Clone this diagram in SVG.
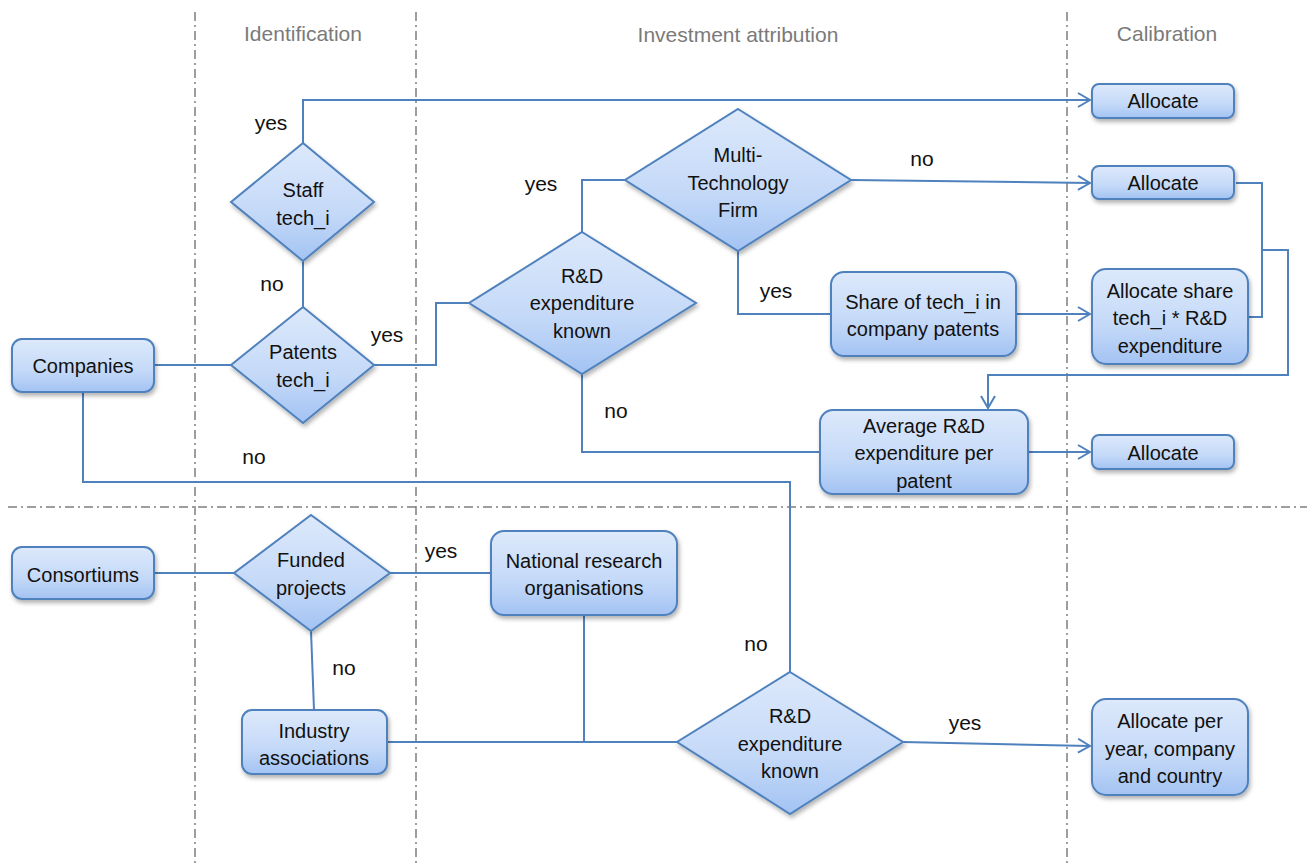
<svg xmlns="http://www.w3.org/2000/svg" width="1307" height="866" viewBox="0 0 1307 866">
<style>
.sep{stroke:#7f7f7f;stroke-width:1.5;stroke-dasharray:9 4 2 4;fill:none}
.hdr{font-family:"Liberation Sans",Arial,sans-serif;font-size:21px;fill:#7a7a7a;text-anchor:middle}
.box{fill:url(#g);stroke:#4f81bd;stroke-width:2;filter:url(#sh)}
.t{font-family:"Liberation Sans",Arial,sans-serif;font-size:20px;fill:#111;text-anchor:middle}
.lbl{font-family:"Liberation Sans",Arial,sans-serif;font-size:21px;fill:#111;text-anchor:middle}
.c{fill:none;stroke:#4f81bd;stroke-width:2}
.a{marker-end:url(#arr)}
</style>
<defs>
<linearGradient id="g" x1="0" y1="0" x2="0" y2="1">
<stop offset="0" stop-color="#dde9fb"/>
<stop offset="0.6" stop-color="#c4d9f8"/>
<stop offset="1" stop-color="#a3c3f3"/>
</linearGradient>
<filter id="sh" x="-20%" y="-20%" width="140%" height="150%">
<feDropShadow dx="1.5" dy="3" stdDeviation="2" flood-color="#000" flood-opacity="0.3"/>
</filter>
<marker id="arr" viewBox="0 0 14 16" refX="13" refY="8" markerWidth="14" markerHeight="16" markerUnits="userSpaceOnUse" orient="auto">
<path d="M1,1 L13,8 L1,15" fill="none" stroke="#4f81bd" stroke-width="2"/>
</marker>
</defs>

<g id="separators">
<line class="sep" x1="195" y1="12" x2="195" y2="866"/>
<line class="sep" x1="416" y1="12" x2="416" y2="866"/>
<line class="sep" x1="1067" y1="12" x2="1067" y2="866"/>
<line class="sep" x1="8" y1="507" x2="1307" y2="507"/>
</g>
<g id="headers">
<text class="hdr" x="303" y="41">Identification</text>
<text class="hdr" x="738" y="42">Investment attribution</text>
<text class="hdr" x="1167" y="41">Calibration</text>
</g>

<g id="connectors">
<polyline class="c a" points="303,143 303,100 1090,100"/>
<line class="c" x1="303" y1="261" x2="303" y2="307"/>
<line class="c" x1="154" y1="365" x2="231" y2="365"/>
<polyline class="c" points="374,365 436,365 436,303 469,303"/>
<polyline class="c" points="582,232 582,180 625,180"/>
<line class="c a" x1="851" y1="180" x2="1090" y2="183"/>
<polyline class="c" points="738,251 738,314 831,314"/>
<line class="c a" x1="1016" y1="314" x2="1090" y2="314"/>
<polyline class="c" points="1236,183 1262,183 1262,317 1248,317"/>
<polyline class="c a" points="1262,250 1288,250 1288,375 988,375 988,408"/>
<polyline class="c" points="582,374 582,452 820,452"/>
<line class="c a" x1="1028" y1="452" x2="1090" y2="452"/>
<polyline class="c" points="83,392 83,482 790,482 790,672"/>
<line class="c" x1="154" y1="573" x2="234" y2="573"/>
<line class="c" x1="390" y1="573" x2="491" y2="573"/>
<line class="c" x1="311" y1="631" x2="314" y2="710"/>
<line class="c" x1="387" y1="742" x2="677" y2="742"/>
<line class="c" x1="584" y1="615" x2="584" y2="742"/>
<line class="c a" x1="903" y1="742" x2="1090" y2="746"/>
</g>

<g id="labels">
<text class="lbl" x="271" y="130">yes</text>
<text class="lbl" x="272" y="291">no</text>
<text class="lbl" x="387" y="342">yes</text>
<text class="lbl" x="541" y="191">yes</text>
<text class="lbl" x="922" y="166">no</text>
<text class="lbl" x="776" y="298">yes</text>
<text class="lbl" x="616" y="418">no</text>
<text class="lbl" x="254" y="464">no</text>
<text class="lbl" x="441" y="558">yes</text>
<text class="lbl" x="344" y="675">no</text>
<text class="lbl" x="756" y="651">no</text>
<text class="lbl" x="965" y="730">yes</text>
</g>

<g id="companies">
<rect class="box" x="12" y="339" width="142" height="53" rx="10"/>
<text class="t" x="83" y="373">Companies</text>
</g>
<g id="staff">
<polygon class="box" points="303,143 374,202 303,261 231,202"/>
<text class="t" x="303" y="197">Staff</text>
<text class="t" x="303" y="225">tech_i</text>
</g>
<g id="patents">
<polygon class="box" points="303,307 374,365 303,423 231,365"/>
<text class="t" x="303" y="359">Patents</text>
<text class="t" x="303" y="387">tech_i</text>
</g>
<g id="rd-upper">
<polygon class="box" points="582,232 696,303 582,374 469,303"/>
<text class="t" x="582" y="283">R&amp;D</text>
<text class="t" x="582" y="310">expenditure</text>
<text class="t" x="582" y="338">known</text>
</g>
<g id="multi">
<polygon class="box" points="738,109 851,180 738,251 625,180"/>
<text class="t" x="738" y="162">Multi-</text>
<text class="t" x="738" y="190">Technology</text>
<text class="t" x="738" y="217">Firm</text>
</g>
<g id="allocate1">
<rect class="box" x="1092" y="84" width="142" height="34" rx="7"/>
<text class="t" x="1163" y="108">Allocate</text>
</g>
<g id="allocate2">
<rect class="box" x="1092" y="166" width="142" height="33" rx="7"/>
<text class="t" x="1163" y="190">Allocate</text>
</g>
<g id="share">
<rect class="box" x="831" y="272" width="185" height="84" rx="13"/>
<text class="t" x="923" y="309">Share of tech_i in</text>
<text class="t" x="923" y="336">company patents</text>
</g>
<g id="allocate-share">
<rect class="box" x="1092" y="269" width="156" height="95" rx="14"/>
<text class="t" x="1170" y="298">Allocate share</text>
<text class="t" x="1170" y="325">tech_i * R&amp;D</text>
<text class="t" x="1170" y="353">expenditure</text>
</g>
<g id="average">
<rect class="box" x="820" y="410" width="208" height="84" rx="13"/>
<text class="t" x="924" y="433">Average R&amp;D</text>
<text class="t" x="924" y="460">expenditure per</text>
<text class="t" x="924" y="488">patent</text>
</g>
<g id="allocate3">
<rect class="box" x="1092" y="435" width="142" height="34" rx="7"/>
<text class="t" x="1163" y="460">Allocate</text>
</g>
<g id="consortiums">
<rect class="box" x="12" y="547" width="142" height="52" rx="10"/>
<text class="t" x="83" y="582">Consortiums</text>
</g>
<g id="funded">
<polygon class="box" points="311,515 390,573 311,631 234,573"/>
<text class="t" x="311" y="567">Funded</text>
<text class="t" x="311" y="595">projects</text>
</g>
<g id="national">
<rect class="box" x="491" y="531" width="186" height="84" rx="13"/>
<text class="t" x="584" y="568">National research</text>
<text class="t" x="584" y="595">organisations</text>
</g>
<g id="industry">
<rect class="box" x="242" y="710" width="145" height="64" rx="10"/>
<text class="t" x="314" y="738">Industry</text>
<text class="t" x="314" y="765">associations</text>
</g>
<g id="rd-lower">
<polygon class="box" points="790,672 903,742 790,814 677,742"/>
<text class="t" x="790" y="723">R&amp;D</text>
<text class="t" x="790" y="751">expenditure</text>
<text class="t" x="790" y="778">known</text>
</g>
<g id="allocate-year">
<rect class="box" x="1092" y="699" width="156" height="96" rx="14"/>
<text class="t" x="1170" y="728">Allocate per</text>
<text class="t" x="1170" y="756">year, company</text>
<text class="t" x="1170" y="783">and country</text>
</g>
</svg>
